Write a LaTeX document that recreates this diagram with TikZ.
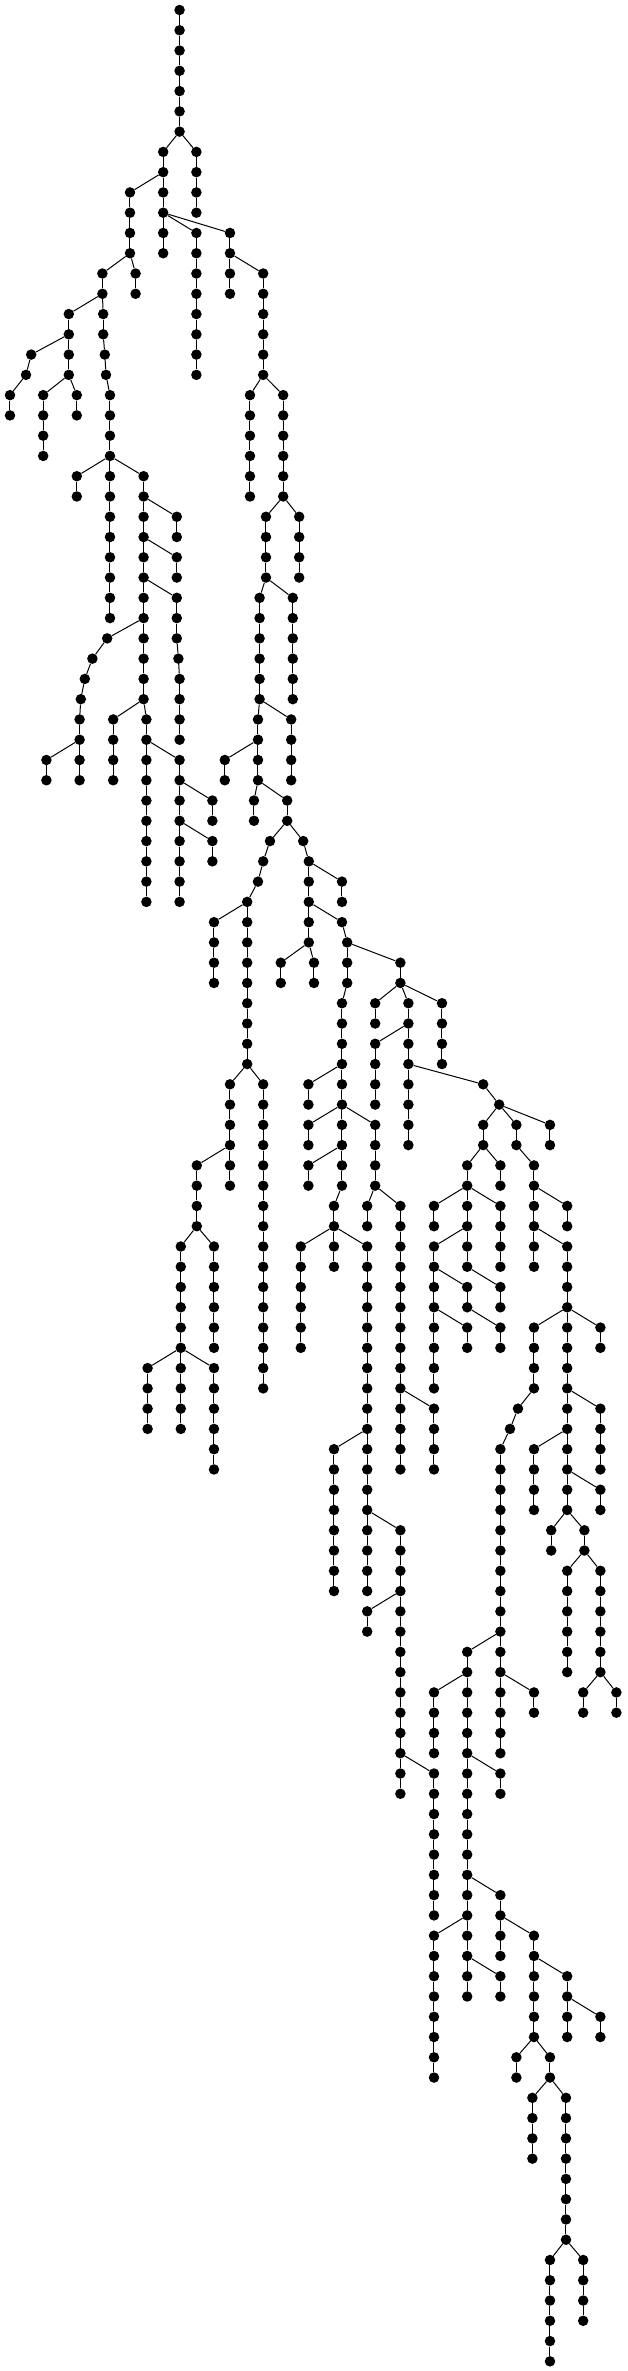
\documentclass[tikz,border=0pt]{standalone}
\usepackage{tikz}
\tikzset{
  dot/.style={circle,fill=black,draw=none,inner sep=0pt,minimum size=10.5pt},
  edge/.style={draw=black,line width=1pt}
}
\newcommand\tchain[4]{%
  \foreach \l in {#2,...,#3}{\node[dot] (n#1-\l) at ({#1*0.4},{-10-20.27*\l}) {};}%
  \ifnum#2<#3\relax
    \pgfmathtruncatemacro\tcend{#3-1}%
    \foreach \l in {#2,...,\tcend}{%
      \pgfmathtruncatemacro\tcnext{\l+1}%
      \draw[edge] (n#1-\l) -- (n#1-\tcnext);}%
  \fi
  \ifx\relax#4\relax\else\draw[edge] (n#4) -- (n#1-#2);\fi
}
\begin{document}
\begin{tikzpicture}[x=1pt,y=1pt]
\useasboundingbox (0,0) rectangle (627,-2371);
\fill[white] (0,0) rectangle (627,-2371);
\tchain{449}{0}{6}{}
\tchain{408}{7}{12}{449-6}
\tchain{491}{7}{10}{449-6}
\tchain{325}{9}{12}{408-8}
\tchain{339}{13}{14}{325-12}
\tchain{256}{13}{14}{325-12}
\tchain{172}{15}{18}{256-14}
\tchain{78}{17}{17}{172-16}
\tchain{65}{18}{18}{78-17}
\tchain{25}{19}{20}{65-18}
\tchain{108}{19}{22}{172-18}
\tchain{192}{19}{20}{172-18}
\tchain{258}{15}{16}{256-14}
\tchain{262}{17}{17}{258-16}
\tchain{265}{18}{18}{262-17}
\tchain{275}{19}{30}{265-18}
\tchain{192}{23}{24}{275-22}
\tchain{359}{23}{34}{275-22}
\tchain{442}{25}{26}{359-24}
\tchain{442}{27}{28}{359-26}
\tchain{442}{29}{31}{359-28}
\tchain{446}{32}{32}{442-31}
\tchain{449}{33}{36}{446-32}
\tchain{268}{31}{31}{359-30}
\tchain{231}{32}{32}{268-31}
\tchain{212}{33}{33}{231-32}
\tchain{202}{34}{34}{212-33}
\tchain{199}{35}{38}{202-34}
\tchain{116}{37}{38}{199-36}
\tchain{283}{35}{38}{359-34}
\tchain{366}{35}{44}{359-34}
\tchain{449}{37}{44}{366-36}
\tchain{531}{39}{40}{449-38}
\tchain{531}{41}{42}{449-40}
\tchain{491}{11}{18}{408-10}
\tchain{575}{11}{14}{408-10}
\tchain{658}{13}{18}{575-12}
\tchain{625}{19}{24}{658-18}
\tchain{708}{19}{24}{658-18}
\tchain{748}{25}{28}{708-24}
\tchain{665}{25}{28}{708-24}
\tchain{732}{29}{34}{665-28}
\tchain{649}{29}{34}{665-28}
\tchain{728}{35}{38}{649-34}
\tchain{645}{35}{38}{649-34}
\tchain{562}{37}{38}{645-36}
\tchain{635}{39}{40}{645-38}
\tchain{718}{39}{40}{645-38}
\tchain{675}{41}{41}{718-40}
\tchain{658}{42}{42}{675-41}
\tchain{645}{43}{43}{658-42}
\tchain{618}{44}{52}{645-43}
\tchain{535}{45}{48}{618-44}
\tchain{758}{41}{41}{718-40}
\tchain{772}{42}{46}{758-41}
\tchain{855}{43}{44}{772-42}
\tchain{855}{45}{45}{772-44}
\tchain{868}{46}{48}{855-45}
\tchain{702}{47}{48}{772-46}
\tchain{785}{47}{48}{772-46}
\tchain{855}{49}{58}{868-48}
\tchain{1001}{47}{48}{868-46}
\tchain{938}{49}{50}{1001-48}
\tchain{1021}{49}{56}{1001-48}
\tchain{1105}{49}{52}{1001-48}
\tchain{938}{51}{54}{1021-50}
\tchain{1208}{53}{53}{1021-52}
\tchain{1248}{54}{54}{1208-53}
\tchain{1208}{55}{56}{1248-54}
\tchain{1291}{55}{56}{1248-54}
\tchain{1375}{55}{56}{1248-54}
\tchain{575}{53}{58}{618-52}
\tchain{658}{53}{68}{618-52}
\tchain{492}{57}{60}{575-56}
\tchain{452}{61}{70}{492-60}
\tchain{535}{61}{66}{492-60}
\tchain{369}{67}{70}{452-66}
\tchain{535}{67}{72}{452-66}
\tchain{771}{53}{54}{855-52}
\tchain{771}{55}{56}{855-54}
\tchain{938}{55}{58}{855-54}
\tchain{771}{57}{58}{855-56}
\tchain{835}{59}{62}{855-58}
\tchain{752}{61}{66}{835-60}
\tchain{918}{61}{78}{835-60}
\tchain{835}{71}{78}{918-70}
\tchain{1001}{75}{88}{918-74}
\tchain{918}{79}{80}{1001-78}
\tchain{1085}{87}{94}{1001-86}
\tchain{918}{59}{60}{938-58}
\tchain{1001}{59}{72}{938-58}
\tchain{1085}{69}{72}{1001-68}
\tchain{1168}{57}{62}{1208-56}
\tchain{1251}{57}{58}{1208-56}
\tchain{1085}{59}{60}{1168-58}
\tchain{1251}{59}{62}{1168-58}
\tchain{1085}{61}{68}{1168-60}
\tchain{1168}{63}{64}{1085-62}
\tchain{1251}{63}{64}{1168-62}
\tchain{1168}{65}{66}{1085-64}
\tchain{1251}{65}{66}{1168-64}
\tchain{1335}{57}{62}{1291-56}
\tchain{1418}{59}{60}{1335-58}
\tchain{1418}{61}{74}{1335-60}
\tchain{1335}{65}{68}{1418-64}
\tchain{1295}{69}{69}{1335-68}
\tchain{1275}{70}{70}{1295-69}
\tchain{1251}{71}{86}{1275-70}
\tchain{1501}{65}{66}{1418-64}
\tchain{1501}{69}{72}{1418-68}
\tchain{1335}{71}{74}{1418-70}
\tchain{1501}{73}{74}{1418-72}
\tchain{1378}{75}{76}{1418-74}
\tchain{1461}{75}{76}{1418-74}
\tchain{1418}{77}{82}{1461-76}
\tchain{1501}{77}{82}{1461-76}
\tchain{1458}{83}{84}{1501-82}
\tchain{1541}{83}{84}{1501-82}
\tchain{1168}{81}{98}{1251-80}
\tchain{1085}{83}{86}{1168-82}
\tchain{1335}{83}{84}{1251-82}
\tchain{1251}{87}{88}{1168-86}
\tchain{1251}{93}{96}{1168-92}
\tchain{1085}{95}{102}{1168-94}
\tchain{1251}{97}{98}{1168-96}
\tchain{1335}{95}{100}{1251-94}
\tchain{1418}{97}{100}{1335-96}
\tchain{1501}{99}{100}{1418-98}
\tchain{1291}{101}{102}{1335-100}
\tchain{1375}{101}{102}{1335-100}
\tchain{1331}{103}{106}{1375-102}
\tchain{1415}{103}{110}{1375-102}
\tchain{1375}{111}{116}{1415-110}
\tchain{1458}{111}{114}{1415-110}
\end{tikzpicture}
\end{document}
